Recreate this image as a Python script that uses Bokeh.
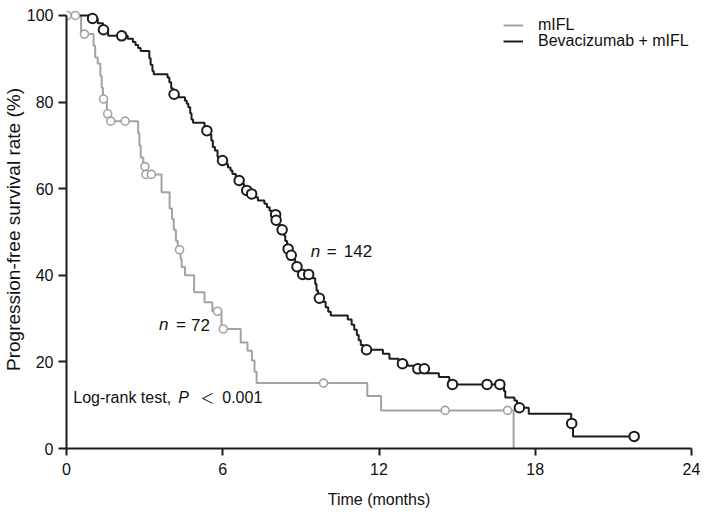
import math
from bokeh.plotting import figure
from bokeh.models import Label, Legend, LegendItem, FixedTicker, Range1d, Title
from bokeh.embed import file_html
from bokeh.resources import INLINE

# ---------------- data ----------------
# Bevacizumab + mIFL (n = 142): step times (months) and survival (%) after each step
bev_times = [0, 0.9, 1.2, 1.4, 1.6, 2.35, 2.55, 2.65, 2.75, 2.85, 3.18, 3.23, 3.3, 3.35,
             3.88, 3.95, 4.02, 4.08, 4.3, 4.55, 4.62, 4.68, 4.75, 4.8, 4.86, 5.3, 5.35,
             5.5, 5.56, 5.62, 5.7, 5.8, 5.92, 6.1, 6.2, 6.3, 6.37, 6.5, 6.58, 6.75, 6.82,
             7.0, 7.25, 7.35, 7.6, 7.7, 7.8, 7.9, 8.04, 8.15, 8.25, 8.35, 8.4, 8.47, 8.58,
             8.7, 8.78, 8.95, 9.45, 9.55, 9.6, 9.66, 9.85, 9.95, 10.05, 10.15, 10.8, 10.95,
             11.05, 11.15, 11.22, 11.3, 11.4, 12.15, 12.4, 12.75, 13.1, 13.38, 13.85, 14.3,
             14.7, 16.8, 16.85, 17.2, 17.3, 17.75, 19.38, 19.45, 21.8]
bev_surv = [100, 99.3, 98.2, 96.7, 95.3, 94.6, 93.9, 93.2, 92.5, 91.8, 90.1, 88.6, 87.2, 86.4,
            85.7, 84.6, 83.2, 81.8, 81.1, 80.3, 79.6, 78.8, 77.4, 76.0, 75.2, 74.4, 73.4,
            72.6, 71.1, 69.6, 68.8, 67.3, 66.5, 65.7, 64.9, 64.2, 63.4, 62.6, 61.9, 61.1, 59.6,
            58.8, 58.0, 57.3, 56.5, 55.7, 54.9, 54.0, 52.7, 51.6, 50.5, 49.2, 47.9, 46.1, 44.6,
            43.7, 42.0, 40.2, 39.3, 38.0, 36.5, 34.7, 33.9, 32.6, 31.6, 30.7, 29.8, 28.6,
            27.4, 26.2, 25.0, 23.9, 22.8, 21.9, 20.7, 19.6, 19.1, 18.4, 17.4, 16.5,
            14.8, 13.3, 11.8, 11.1, 9.4, 8.0, 5.8, 2.8, 2.8]
bev_cens_t = [1.0, 1.42, 2.12, 4.13, 5.39, 5.99, 6.63, 6.92, 7.11, 8.03, 8.05, 8.28, 8.51,
              8.63, 8.85, 9.07, 9.30, 9.71, 11.52, 12.9, 13.49, 13.74, 14.82, 16.15, 16.64,
              17.39, 19.4, 21.8]
bev_cens_s = [99.3, 96.7, 95.3, 81.8, 73.4, 66.5, 61.9, 59.6, 58.8, 54.0, 52.7, 50.5, 46.1,
              44.6, 42.0, 40.2, 40.2, 34.7, 22.8, 19.6, 18.4, 18.4, 14.8, 14.8, 14.8,
              9.4, 5.8, 2.8]

# mIFL (n = 72)
mifl_times = [0, 0.56, 1.04, 1.1, 1.2, 1.3, 1.35, 1.4, 1.55, 1.65, 2.75, 2.8, 2.85, 2.95,
              3.03, 3.65, 3.96, 4.05, 4.12, 4.2, 4.27, 4.38, 4.42, 4.55, 4.9, 5.3, 5.6,
              5.95, 6.69, 6.95, 7.12, 7.22, 7.3, 11.55, 12.08, 17.17]
mifl_surv = [100, 95.7, 93.0, 90.3, 88.9, 86.1, 83.3, 80.7, 77.3, 75.6, 72.8, 70.0, 67.2, 65.1,
             63.3, 59.2, 55.4, 53.0, 50.5, 48.0, 45.9, 43.8, 41.9, 40.0, 36.1, 33.8, 31.7,
             27.6, 24.5, 22.6, 20.3, 17.7, 15.1, 12.1, 8.8, 0]
mifl_cens_t = [0.03, 0.34, 0.69, 1.42, 1.58, 1.7, 2.25, 3.01, 3.05, 3.26, 4.34, 5.8, 6.02,
               9.87, 14.54, 16.94]
mifl_cens_s = [100, 100, 95.7, 80.7, 77.3, 75.6, 75.6, 65.1, 63.3, 63.3, 45.9, 31.7, 27.6,
               15.1, 8.8, 8.8]

series_names = ["mIFL", "Bevacizumab + mIFL"]
x_ticks = [0, 6, 12, 18, 24]
y_ticks = [0, 20, 40, 60, 80, 100]
x_label = "Time (months)"
y_label = "Progression-free survival rate (%)"
n_bev = "142"
n_mifl = "72"
test_name = "Log-rank test,"
p_value = "0.001"

# ---------------- styling ----------------
FONT = "Liberation Sans"
GRAY = "#a3a3a3"
BLACK = "#1c1c1c"
TXT = "#111111"

p = figure(width=700, height=512, x_range=Range1d(0, 24), y_range=Range1d(0, 101.15),
           output_backend="svg", toolbar_location=None,
           min_border_left=66, min_border_right=9, min_border_top=10, min_border_bottom=64)
p.outline_line_color = None
p.xgrid.visible = False
p.ygrid.visible = False
p.background_fill_color = "white"
p.border_fill_color = "white"

for ax in (p.xaxis[0], p.yaxis[0]):
    ax.axis_line_width = 2
    ax.axis_line_color = BLACK
    ax.major_tick_line_width = 2
    ax.major_tick_line_color = BLACK
    ax.major_tick_in = 0
    ax.minor_tick_in = 0
    ax.minor_tick_out = 0
    ax.major_label_text_font = FONT
    ax.major_label_text_font_size = "16px"
    ax.major_label_text_color = TXT
    ax.axis_label_text_font = FONT
    ax.axis_label_text_font_style = "normal"
    ax.axis_label_text_color = TXT

p.xaxis.ticker = FixedTicker(ticks=x_ticks)
p.yaxis.ticker = FixedTicker(ticks=y_ticks)
p.xaxis.bounds = (0, 24)
p.yaxis.bounds = (0, 100)
p.xaxis.major_tick_out = 7
p.yaxis.major_tick_out = 8
p.xaxis.major_label_standoff = 7
p.yaxis.major_label_standoff = 5
p.xaxis.axis_label = x_label
p.xaxis.axis_label_text_font_size = "16px"
p.xaxis.axis_label_standoff = 13

# y axis title, shifted a little upward as in the reference
p.add_layout(Title(text=y_label, align="center", offset=30, standoff=0,
                   text_font=FONT, text_font_size="19px", text_font_style="normal",
                   text_color=TXT), "left")

# curves
g_line = p.step(mifl_times, mifl_surv, mode="after", line_color=GRAY, line_width=2)
b_line = p.step(bev_times, bev_surv, mode="after", line_color=BLACK, line_width=2)
p.scatter(mifl_cens_t, mifl_cens_s, size=8, fill_color="white", line_color=GRAY, line_width=1.6)
p.scatter(bev_cens_t, bev_cens_s, size=9.5, fill_color="white", line_color=BLACK, line_width=2)

# legend: one single-row legend per series so the rows sit exactly where they should
def add_legend(label, renderer, y_loc):
    lg = Legend(items=[LegendItem(label=label, renderers=[renderer])],
                location=(437, y_loc), border_line_color=None, background_fill_alpha=0,
                padding=0, margin=0, spacing=0, glyph_width=20, glyph_height=16,
                label_height=16, label_standoff=15, label_text_font=FONT,
                label_text_font_size="16px", label_text_color=TXT)
    p.add_layout(lg, "center")

add_legend(series_names[0], g_line, 414)
add_legend(series_names[1], b_line, 398)

def annot(x, y, parts):
    for text, dx, style, font, size in parts:
        p.add_layout(Label(x=x, y=y, x_offset=dx, text=text, text_align="left",
                           text_baseline="middle", text_font=font, text_font_style=style,
                           text_font_size=size, text_color=TXT))

annot(9.38, 45.6, [("n", 0, "italic", FONT, "17px"), ("=", 16, "normal", FONT, "17px"),
                   (n_bev, 33, "normal", FONT, "17px")])
annot(3.55, 28.6, [("n", 0, "italic", FONT, "17px"), ("=", 17, "normal", FONT, "17px"),
                   (n_mifl, 32, "normal", FONT, "17px")])
annot(0.26, 11.8, [(test_name, 0, "normal", FONT, "16px"), ("P", 105, "italic", FONT, "16px"),
                   ("\uff1c", 127, "normal", "Noto Sans CJK SC", "14px"),
                   (p_value, 149, "normal", FONT, "16px")])

open("out.html", "w").write(file_html(p, INLINE))
